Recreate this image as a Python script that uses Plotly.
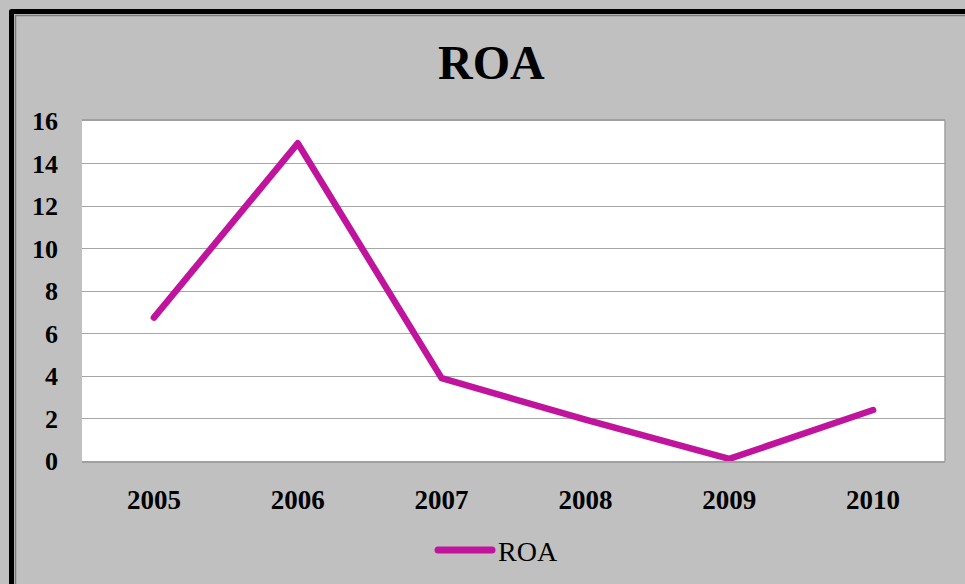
import plotly.graph_objects as go

years = ["2005", "2006", "2007", "2008", "2009", "2010"]
roa = [6.75, 14.95, 3.9, 1.95, 0.1, 2.4]
y_ticks = [0, 2, 4, 6, 8, 10, 12, 14, 16]

W, H = 965, 584
L, R, T, B = 82, 945, 121, 461

def px(x):
    return (x - L) / (R - L)

def py(y):
    return (B - y) / (B - T)

fig = go.Figure()
fig.add_trace(go.Scatter(
    x=years, y=roa, mode="lines", name="ROA",
    line=dict(color="#C0149C", width=6.5),
    showlegend=False,
))

serif = "Liberation Serif, Times New Roman, serif"

fig.update_layout(
    width=W, height=H,
    margin=dict(l=L, r=W - R, t=T, b=H - B, pad=0),
    paper_bgcolor="#C0C0C0",
    plot_bgcolor="#FFFFFF",
    font=dict(family=serif, color="#000000"),
    xaxis=dict(
        type="category", range=[-0.5, len(years) - 0.5],
        showgrid=False, zeroline=False,
        showline=True, linecolor="#A0A0A0", linewidth=1.5, mirror=True,
        ticks="", tickfont=dict(family=serif, size=27, color="#000000", weight="bold"),
        ticklabelstandoff=14,
    ),
    yaxis=dict(
        range=[0, 16], tickvals=y_ticks, ticktext=[str(v) for v in y_ticks],
        showgrid=True, gridcolor="#A6A6A6", gridwidth=1,
        zeroline=False, showline=False, ticks="",
        tickfont=dict(family=serif, size=26, color="#000000", weight="bold"),
        ticklabelstandoff=23,
    ),
    annotations=[
        dict(text="<b>ROA</b>", xref="paper", yref="paper",
             x=px(491), y=py(63), xanchor="center", yanchor="middle",
             showarrow=False, font=dict(family=serif, size=48, color="#000000")),
        dict(text="ROA", xref="paper", yref="paper",
             x=px(496), y=py(551), xanchor="left", yanchor="middle",
             showarrow=False, font=dict(family=serif, size=28, color="#000000")),
    ],
    shapes=[
        dict(type="line", xref="paper", yref="paper",
             x0=px(438), x1=px(492), y0=py(550), y1=py(550),
             line=dict(color="#C0149C", width=7)),
        dict(type="line", xref="paper", yref="paper",
             x0=1, x1=1, y0=0, y1=1, line=dict(color="#A0A0A0", width=1.5)),
        dict(type="rect", xref="paper", yref="paper",
             x0=px(11.5), x1=px(1000), y0=py(11.5), y1=py(640),
             line=dict(color="#000000", width=5)),
        dict(type="rect", xref="paper", yref="paper",
             x0=px(15.5), x1=px(1000), y0=py(15.5), y1=py(640),
             line=dict(color="#7A7A7A", width=1.5)),
    ],
)

post = (
    "document.body.style.margin='0';document.body.style.overflow='hidden';"
    "document.querySelectorAll('.scatterlayer .js-line, .shapelayer path').forEach(function(p){"
    "p.style.strokeLinejoin='round';p.style.strokeLinecap='round';});"
)

fig.write_html(
    "out.html",
    config={"displayModeBar": False},
    post_script=post,
)
